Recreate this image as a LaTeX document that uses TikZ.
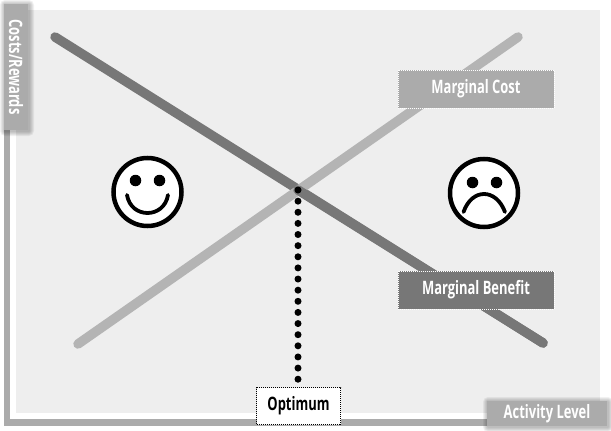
\documentclass[tikz,border=0pt]{standalone}
\usepackage{fontspec}
\usepackage{graphicx}
\setmainfont{Open Sans}
\definecolor{panel}{HTML}{EEEEEE}
\definecolor{lightg}{HTML}{B4B4B4}
\definecolor{darkg}{HTML}{777777}
\definecolor{axisg}{HTML}{ABABAB}
\newcommand{\cond}[1]{\raisebox{-1pt}{\scalebox{0.70}[1]{\fontsize{18.5}{21}\selectfont\bfseries #1}}}
\newcommand{\softshadow}[4]{%
  \foreach \g in {5,4,3,2,1}{\fill[black,opacity=0.055,rounded corners=\g pt] (#1-\g+1,#2-\g+1) rectangle (#3+\g+1,#4+\g+1);}}
\tikzset{
  x=1pt,y=-1pt,
  curve/.style={line width=9.5pt,line cap=round},
  lab/.style={minimum width=156pt,minimum height=38pt,inner sep=0pt,text=white,draw=white,line width=1pt,dash pattern=on 1pt off 1pt},
  axislab/.style={fill=axisg,text=white,inner sep=0pt},
  face/.style={draw=black,fill=white,line width=4.5pt,circle,minimum size=68pt,inner sep=0pt},
  eye/.style={fill=black,circle,minimum size=11.5pt,inner sep=0pt},
  mouth/.style={draw=black,line width=3.8pt,line cap=round}
}
\begin{document}
\begin{tikzpicture}
\useasboundingbox (0,0) rectangle (611,431);
\fill[white] (0,0) rectangle (611,431);
\node[fill=panel,minimum width=584pt,minimum height=403pt,inner sep=0pt,anchor=north west] (panel) at (16,10) {};
% axes
\coordinate (org) at (7,422.5);
\coordinate (ytop) at (7,100);
\coordinate (xend) at (500,422.5);
\draw[axisg,line width=6.5pt,line join=miter] (ytop) -- (org) -- (xend);
% curves
\coordinate (b1) at (55,37);
\coordinate (b2) at (543,343);
\coordinate (c1) at (78,344);
\coordinate (c2) at (518,37);
\coordinate (opt) at (298,190);
\coordinate (optb) at (298,382);
\draw[curve,darkg] (b1) -- (b2);
\draw[curve,lightg] (c1) -- (c2);
\draw[curve,darkg] (opt) -- (b2);
\draw[black,line width=7pt,line cap=round,dash pattern=on 0pt off 11.13pt] (opt) -- (optb);
% labels
\node[lab,fill=axisg] (mc) at (476,89) {\cond{Marginal Cost}};
\node[lab,fill=darkg] (mb) at (476,290) {\cond{Marginal Benefit}};
\node[fill=white,draw=black,line width=1pt,dash pattern=on 1pt off 1pt,minimum width=84pt,minimum height=37pt,inner sep=0pt,text=black] (optlab) at (298.5,406) {\cond{Optimum}};
\softshadow{487}{401}{607}{426}
\softshadow{4}{4}{28}{130}
\node[axislab,minimum width=120pt,minimum height=25pt] (xlab) at (547,413.5) {\cond{Activity Level}};
\node[axislab,minimum width=126pt,minimum height=24pt,rotate=-90] (ylab) at (16,67) {\cond{Costs/Rewards}};
% smiley
\node[face] (sm) at (147.5,192) {};
\node[eye] (sm1) at (135.5,180.5) {};
\node[eye] (sm2) at (159.5,180.5) {};
\coordinate (sma) at (127,195);
\coordinate (smb) at (168,195);
\draw[mouth] (sma) .. controls (131,219) and (164,219) .. (smb);
% frown
\node[face] (fr) at (484,193) {};
\node[eye] (fr1) at (472.5,182.5) {};
\node[eye] (fr2) at (496.5,182.5) {};
\coordinate (fra) at (463.5,212);
\coordinate (frb) at (505,212);
\draw[mouth] (fra) .. controls (472,188) and (496,188) .. (frb);
\end{tikzpicture}
\end{document}
